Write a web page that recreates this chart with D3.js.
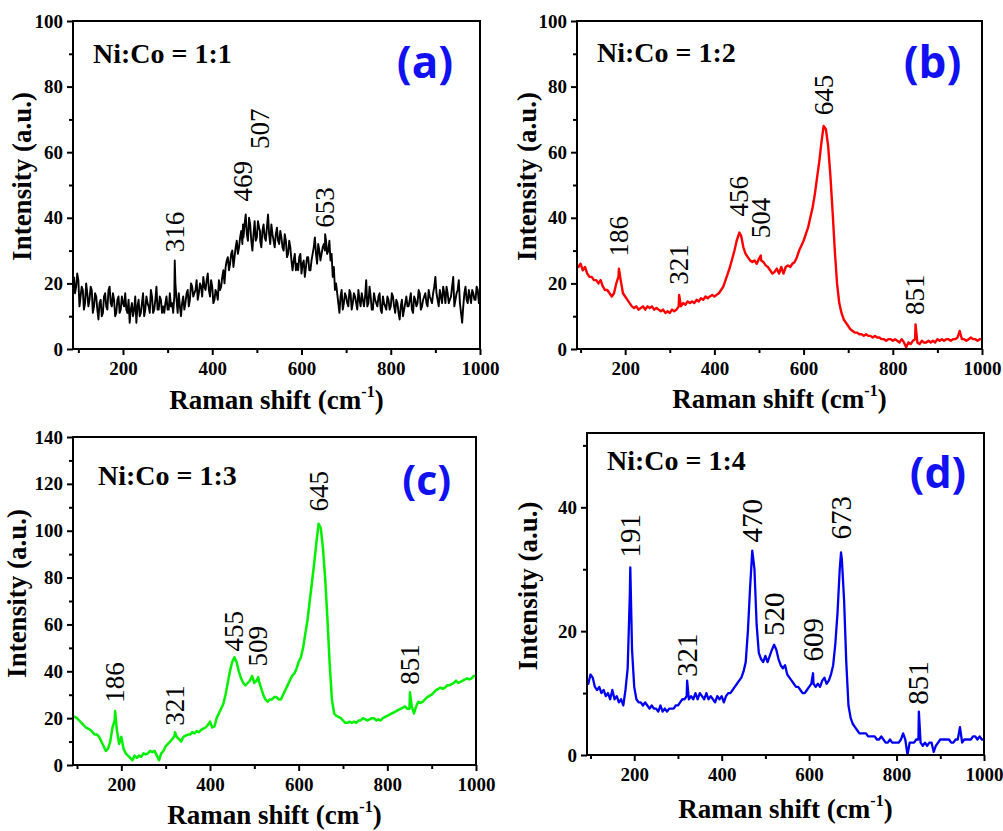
<!DOCTYPE html>
<html>
<head>
<meta charset="utf-8">
<script src="https://cdn.jsdelivr.net/npm/d3@7"></script>
<style>
  body { margin: 0; background: #fff; }
  svg text { fill: #000; }
</style>
</head>
<body>
<svg id="fig" width="1003" height="831"></svg>
<script>
// Raman spectra of Ni-Co samples, four panels.
// Intensities are sampled every 5 cm^-1 from 90 to 1000 cm^-1 (rows of 10 = 50 cm^-1).
const shiftGrid = d3.range(90, 1001, 5);
// the noisy 1:1 spectrum is also read halfway between those points
const shiftGridMid = d3.range(92.5, 1000, 5);

const intensity11 = [
  22,19,21,16,18,14,17,15,18,13,      // 90
  16,9,15,11,17,12,19,13,15,11,       // 140
  16,12,14,17,11,8,14,12,8,15,        // 190
  11,17,12,14,11,16,12,19,12,15,      // 240
  13,14,12,17,14,16,15,17,10,16,      // 290
  14,18,15,19,17,21,17,19,22,18,      // 340
  23,16,19,15,17,21,19,24,25,28,      // 390
  26,30,28,33,31,36,34,41,33,38,      // 440
  30,39,34,37,31,38,33,41,32,35,      // 490
  31,37,32,34,30,33,29,31,24,29,      // 540
  26,28,23,27,25,28,24,29,34,26,      // 590
  30,29,32,33,30,27,22,18,17,11,      // 640
  18,14,16,13,17,14,16,12,15,17,      // 690
  13,21,14,16,12,15,13,17,11,14,      // 740
  12,15,13,16,11,14,9,15,12,16,       // 790
  13,17,11,15,14,17,13,16,14,18,      // 840
  15,17,22,15,18,14,17,19,14,16,      // 890
  22,15,18,14,8,17,15,18,14,17,       // 940
  15,18,16                            // 990
];

const intensity11Mid = [
  17,23,13,19,12,20,13,19,11,17,      // 92.5
  12,14,10,16,13,18,14,17,10,15,      // 142.5
  11,16,13,12,15,12,10,16,13,10,      // 192.5
  14,10,16,13,18,11,15,12,16,11,      // 242.5
  11,16,12,13,11,20,11,13,14,12,      // 292.5
  17,13,20,16,18,15,20,16,19,21,      // 342.5
  18,21,14,18,15,18,22,20,27,24,      // 392.5
  29,25,31,29,34,32,38,35,40,33,      // 442.5
  35,33,39,33,36,34,37,35,38,33,      // 492.5
  35,33,36,31,35,28,33,27,27,24,      // 542.5
  24,29,26,22,28,24,27,31,29,32,      // 592.5
  27,31,30,29,33,29,25,20,14,16,      // 642.5
  12,17,14,18,12,17,14,18,13,15,      // 692.5
  16,13,19,12,17,14,16,12,16,13,      // 742.5
  16,12,17,13,15,11,13,10,14,13,      // 792.5
  15,12,16,13,18,12,15,17,13,16,      // 842.5
  14,19,17,13,16,19,14,17,15,19,      // 892.5
  13,17,21,11,13,19,14,16,18,15,      // 942.5
  19,14                               // 992.5
];

const intensity12 = [
  26,25,26,24,25,23,22,22,21,21,
  20,21,19,18,18,17,16,17,20,22,
  21,17,16,15,14,13,12.5,13,12,12.5,
  13,12,13,12.5,13,12,12.5,12,11.5,12,
  11,11.5,11,12,11.5,12,13,13,14,13.5,
  14.5,14,14.5,14,15,14.5,15.5,15,16,15.5,
  16,16.5,16,16.5,17,18,19,21,23,25,
  27.5,30,33,35,34.5,31,29,28,27,26.5,
  27,26,27.5,27,26.5,25.5,25,24,23,23.5,
  24.5,23,25,23,25,25.5,25,26,26.5,28,
  30,31.5,33,35,37,40,43,47,52,57,
  63,68,67,62,53,42,30,20,14,11,
  9,8,7,6,5.5,5,5,4.5,4.5,4,
  4.5,4,4,3.5,4,3.5,3.5,3,3,2.5,
  3,3,2.5,3,2.5,2,3,2,0.5,2,
  1.5,2.5,3,2,1.5,2.5,2,2,2.5,2,
  2.5,2,3,2.5,3,2.5,3,3,2.5,3,
  3,3.5,5.5,3,3,2.5,3,3.5,3,3,
  2.5,3,3
];

const intensity13 = [
  21,20.5,20,19,18,17,16,15.5,15,14,
  13,13,12,10,8,6,7,10,16,19,
  15,9,12,7,5,4,3,2,4,3,
  4,3.5,5,4.5,5,6,5.5,6,4,2,
  5,6,8,9,10,11,12.5,12,11,10,
  12,12.5,13,13,14,13.5,14.5,14,15,15.5,
  16,17,18.5,16,16.5,20,22,24,26,30,
  35,40,44,46,44,40,37,35,34,35,
  36,38,35,36,36,33,30,28,27,28,
  28,29,29,28,28,30,32,34,36,38,
  39,41,44,46,50,56,62,70,78,86,
  95,103,101,92,79,62,43,28,22,21,
  20.5,20,19,18,18,18.5,18,18.5,18,19,
  19,20,19.5,19,19.5,20,20,19,19.5,19,
  20,20.5,21,21.5,22,22.5,23,23.5,24,24.5,
  25,24,24,25,22,25,27,26.5,27,28,
  29,29.5,30,31,32,32.5,33,32.5,33,34,
  34,34.5,35,36,35,35.5,36,36.5,37,36.5,
  37,38,38
];

const intensity14 = [
  12,11.5,13,12.5,11,10.5,11,10,10.5,9.5,
  10,9,10.5,9,9.5,8.5,9,8,10.5,14,
  26,17,11,9,8.5,8.5,8,8.5,8,7.5,
  8,7.5,7.5,7,8,7,7.5,7,7.5,7.5,
  7.5,8,8,8.5,9,9,9.5,9,9.5,9,
  10,9,10,9.5,9,10,9,9.5,9,8.5,
  9.5,9,9.5,8.5,9.5,10,10,10.5,11,11.5,
  12,12.5,13.5,15,20,27,33,30,21,16.5,
  15.5,15,16,15,16,17,17.5,17,15.5,14.5,
  14,14.5,13,12.5,12,11.5,11,11,10.5,10,
  10,10.5,11,11.5,11.5,11,11.5,11,12,12.5,
  11.5,12,13,14.5,18,23,30,31.5,25,15,
  8,6,5,4.5,4,3.5,3.5,3.5,3.5,3,
  3,3,3,2.5,2.5,3,2.5,2,2,2.5,
  2,2,2,2,2.5,3.5,2.5,0,2,2,
  2,2.5,2.5,2,1.5,2,1.5,2,2,0.5,
  1.5,2,2.5,2.5,2.5,2.5,2.5,2,2,2.5,
  2.5,4.5,2,2.5,2.5,2.5,2.5,3,3,2.5,
  3,2.5,2.5
];

// Assigned bands: [Raman shift (cm^-1), intensity at the band]
const peaks11 = [[316,27],[469,38],[507,36],[653,35]];
const peaks12 = [[186,24.5],[321,16.5],[456,35.5],[504,28.5],[645,68],[851,7.5]];
const peaks13 = [[186,23],[321,14],[455,46],[509,37.5],[645,103],[851,31]];
const peaks14 = [[191,30.3],[321,12],[470,33],[520,17.8],[609,13.2],[673,32.7],[851,7]];

const xMajorTicks = [200, 400, 600, 800, 1000];
const xMinorTicks = [100, 300, 500, 700, 900];

const panels = [
  { id: "a", ratio: "Ni:Co = 1:1", tag: "(a)", color: "#000000", width: 1.9,
    samples: [[shiftGrid, intensity11], [shiftGridMid, intensity11Mid]], peaks: peaks11,
    box: { l: 73, r: 480, t: 21, b: 349 }, xMin: 88, yMax: 100,
    labelLift: [29.5, 45, 61, 37], labelSize: 27,
    ratioPos: [20, 42], tagPos: [-55, 56.5], tagSize: 44, yTitle: [42, -8.5], xTitle: 60 },
  { id: "b", ratio: "Ni:Co = 1:2", tag: "(b)", color: "#ff0000", width: 2.4,
    samples: [[shiftGrid, intensity12]], peaks: peaks12,
    box: { l: 577, r: 982, t: 21, b: 349 }, xMin: 92, yMax: 100,
    labelLift: [28.2, 19.6, 40.4, 33.8, 71.3, 10.4], labelSize: 27,
    ratioPos: [20, 41], tagPos: [-49.5, 56.5], tagSize: 44, yTitle: [41, -8.5], xTitle: 59 },
  { id: "c", ratio: "Ni:Co = 1:3", tag: "(c)", color: "#00f000", width: 2.5,
    samples: [[shiftGrid, intensity13]], peaks: peaks13,
    box: { l: 73, r: 476, t: 437, b: 765 }, xMin: 91, yMax: 140,
    labelLift: [26.6, 16.7, 48.4, 42, 108.2, 34.2], labelSize: 27,
    ratioPos: [25, 48], tagPos: [-49.3, 58], tagSize: 41, yTitle: [47, -7.5], xTitle: 59 },
  { id: "d", ratio: "Ni:Co = 1:4", tag: "(d)", color: "#0000f0", width: 2.3,
    samples: [[shiftGrid, intensity14]], peaks: peaks14,
    box: { l: 587, r: 984, t: 433, b: 755 }, xMin: 92, yMax: 52,
    labelLift: [31.9, 12.6, 34.3, 19.2, 15.1, 34.8, 8.1], labelSize: 29,
    ratioPos: [20, 37], tagPos: [-46, 55], tagSize: 43, yTitle: [50, -8], xTitle: 63 }
];

const serif = "'Liberation Serif', 'Times New Roman', serif";
const svg = d3.select("#fig");
svg.append("rect").attr("width", 1003).attr("height", 831).attr("fill", "#fff");

function styleAxis(sel, withText) {
  sel.select(".domain").remove();
  sel.selectAll(".tick line").attr("stroke", "#000").attr("stroke-width", 2);
  if (withText) {
    sel.selectAll(".tick text")
      .attr("font-family", serif).attr("font-weight", "bold")
      .attr("font-size", 19).attr("fill", "#000");
  }
}

panels.forEach(p => {
  const x = d3.scaleLinear().domain([p.xMin, 1000]).range([p.box.l, p.box.r]);
  const y = d3.scaleLinear().domain([0, p.yMax]).range([p.box.b, p.box.t]);
  const g = svg.append("g").attr("class", "panel-" + p.id);

  const clipId = "clip-" + p.id;
  svg.append("clipPath").attr("id", clipId).append("rect")
    .attr("x", p.box.l).attr("y", p.box.t)
    .attr("width", p.box.r - p.box.l).attr("height", p.box.b - p.box.t);

  // spectrum: sampled points plus the assigned band maxima
  const peakSet = new Set(p.peaks.map(d => d[0]));
  const sampled = p.samples.flatMap(([grid, vals]) => grid.map((s, k) => [s, vals[k]]));
  const pts = sampled
    .filter(d => !peakSet.has(d[0]) && d[1] !== undefined)
    .concat(p.peaks)
    .sort((a, b) => a[0] - b[0]);

  const line = d3.line().x(d => x(d[0])).y(d => y(d[1]));
  g.append("path").datum(pts)
    .attr("d", line)
    .attr("fill", "none")
    .attr("stroke", p.color)
    .attr("stroke-width", p.width)
    .attr("stroke-linejoin", "round")
    .attr("clip-path", `url(#${clipId})`);

  // axes
  const yMajor = d3.range(0, p.yMax + 0.001, 20);
  const yMinor = d3.range(10, p.yMax, 20);

  g.append("g").attr("transform", `translate(0,${p.box.b})`)
    .call(d3.axisBottom(x).tickValues(xMajorTicks).tickSize(6).tickPadding(7).tickFormat(d3.format("d")))
    .call(s => styleAxis(s, true));
  g.append("g").attr("transform", `translate(0,${p.box.b})`)
    .call(d3.axisBottom(x).tickValues(xMinorTicks).tickSize(4).tickFormat(""))
    .call(s => styleAxis(s, false));
  g.append("g").attr("transform", `translate(${p.box.l},0)`)
    .call(d3.axisLeft(y).tickValues(yMajor).tickSize(6).tickPadding(4).tickFormat(d3.format("d")))
    .call(s => styleAxis(s, true));
  g.append("g").attr("transform", `translate(${p.box.l},0)`)
    .call(d3.axisLeft(y).tickValues(yMinor).tickSize(4).tickFormat(""))
    .call(s => styleAxis(s, false));

  // frame
  g.append("rect")
    .attr("x", p.box.l).attr("y", p.box.t)
    .attr("width", p.box.r - p.box.l).attr("height", p.box.b - p.box.t)
    .attr("fill", "none").attr("stroke", "#000").attr("stroke-width", 2);

  // band labels
  g.selectAll("text.band").data(p.peaks).join("text")
    .attr("class", "band")
    .attr("transform", (d, k) => `translate(${x(d[0])},${y(p.labelLift[k])}) rotate(-90)`)
    .attr("dy", "0.33em")
    .attr("text-anchor", "start")
    .attr("font-family", serif)
    .attr("font-size", p.labelSize)
    .text(d => d[0]);

  // composition label
  g.append("text")
    .attr("x", p.box.l + p.ratioPos[0]).attr("y", p.box.t + p.ratioPos[1])
    .attr("font-family", serif).attr("font-weight", "bold").attr("font-size", 28)
    .text(p.ratio);

  // panel letter
  g.append("text")
    .attr("x", p.box.r + p.tagPos[0]).attr("y", p.box.t + p.tagPos[1])
    .attr("text-anchor", "middle")
    .attr("font-family", "'Open Sans', sans-serif").attr("font-weight", "bold")
    .attr("font-size", p.tagSize)
    .style("fill", "#1010f0")
    .text(p.tag);

  // axis titles
  const cy = (p.box.t + p.box.b) / 2 + p.yTitle[1];
  g.append("text")
    .attr("transform", `translate(${p.box.l - p.yTitle[0]},${cy}) rotate(-90)`)
    .attr("text-anchor", "middle")
    .attr("font-family", serif).attr("font-weight", "bold").attr("font-size", 27)
    .text("Intensity (a.u.)");

  const xt = g.append("text")
    .attr("x", (p.box.l + p.box.r) / 2).attr("y", p.box.b + p.xTitle)
    .attr("text-anchor", "middle")
    .attr("font-family", serif).attr("font-weight", "bold").attr("font-size", 27);
  xt.append("tspan").text("Raman shift (cm");
  xt.append("tspan").attr("font-size", 16).attr("dy", -12).text("-1");
  xt.append("tspan").attr("dy", 12).text(")");
});
</script>
</body>
</html>
